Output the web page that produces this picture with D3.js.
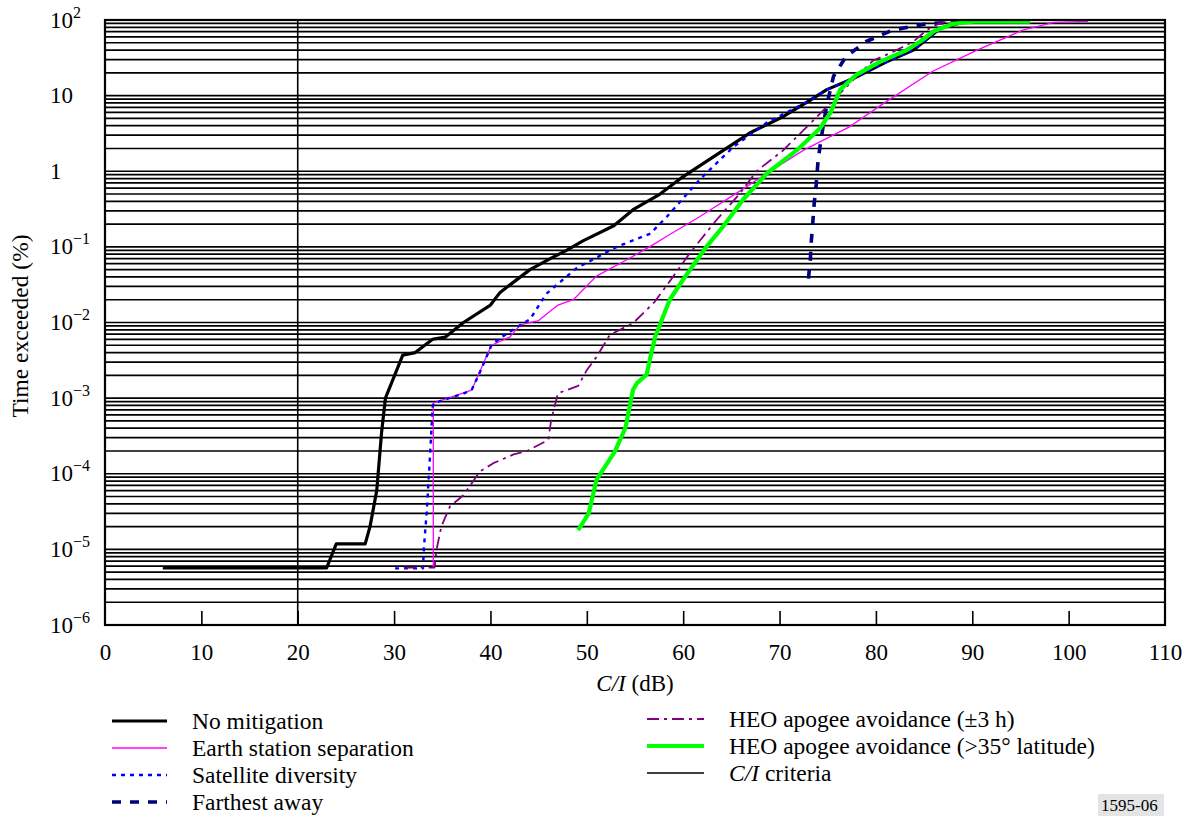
<!DOCTYPE html>
<html>
<head>
<meta charset="utf-8">
<script src="https://cdn.jsdelivr.net/npm/d3@7"></script>
<style>
  body { margin: 0; background: #fff; }
  svg text { font-family: "Liberation Serif", "Times New Roman", serif; fill: #000; }
</style>
</head>
<body>
<div id="chart"></div>
<script>
// C/I (dB) vs time exceeded (%) for each mitigation technique
const noMitigation = [
  [6, 5.7e-6], [23, 5.7e-6], [24, 1.18e-5], [27, 1.18e-5], [27.5, 2e-5], [28.2, 6e-5],
  [28.7, 3.5e-4], [29.1, 1e-3], [30.9, 3.7e-3], [32.2, 4e-3], [34, 6e-3], [35.3, 6.4e-3],
  [37.2, 1e-2], [40, 1.7e-2], [41, 2.5e-2], [44.1, 5e-2], [46.2, 7e-2], [47.9, 9e-2],
  [49.6, 0.12], [52.8, 0.19], [54.8, 0.31], [57.6, 0.5], [60, 0.85], [64.2, 1.9],
  [66.9, 3.2], [70.4, 5.3], [73.2, 8.7], [74.9, 12], [77.7, 17], [81.1, 28], [83.9, 40],
  [85.6, 60], [86.7, 78], [89.4, 96]
];
const earthStation = [
  [34.07, 5.7e-6], [34.07, 8.6e-4], [38.05, 1.28e-3], [40.1, 5e-3], [42, 6.4e-3],
  [43.1, 9.3e-3], [45, 1.06e-2], [47, 1.7e-2], [48.6, 2e-2], [51, 4.1e-2], [54.1, 6.7e-2],
  [56.9, 0.107], [58.3, 0.138], [61.7, 0.25], [65.5, 0.51], [68.7, 0.94], [72.5, 1.9],
  [77.3, 3.9], [80.8, 7.9], [85.9, 21], [90.5, 40], [95.3, 74], [98.5, 93], [102, 96]
];
const satDiversity = [
  [30.1, 5.6e-6], [33, 5.6e-6], [33.1, 1.08e-5], [33.4, 3.3e-5], [33.7, 1.5e-4], [34, 7.7e-4],
  [34.1, 8.6e-4], [37.2, 1.15e-3], [38.05, 1.28e-3], [39.1, 2.5e-3], [40.1, 5e-3], [41, 6.2e-3],
  [43.1, 9.3e-3], [44.1, 1.1e-2], [45.8, 2.4e-2], [48.9, 5.2e-2], [53.1, 0.1], [56.6, 0.15],
  [58.3, 0.25], [61.7, 0.77], [65.2, 2.1], [68.7, 4.4], [73.2, 8.7], [74.9, 12], [77.7, 17],
  [81.1, 28], [83.9, 40], [85.6, 60], [86.7, 78], [88.5, 92], [89.4, 96]
];
const farthestAway = [
  [73.0, 0.038], [73.2, 0.07], [73.3, 0.12], [73.45, 0.21], [73.6, 0.38], [73.8, 0.66],
  [74.0, 1.4], [74.3, 2.6], [74.6, 4.5], [74.9, 7.5], [75.6, 18], [76.9, 33], [79.0, 52],
  [81.8, 74], [85.3, 89], [89.4, 96]
];
const heoApogee3h = [
  [31, 5.75e-6], [34.2, 5.75e-6], [34.4, 9.8e-6], [34.9, 2e-5], [35.8, 3.7e-5], [37.2, 5.2e-5],
  [38.9, 1.07e-4], [40.3, 1.38e-4], [42.4, 1.8e-4], [43.8, 2e-4], [46, 2.8e-4], [46.3, 5.1e-4],
  [47, 1.16e-3], [49.1, 1.45e-3], [50, 2.35e-3], [51, 3.5e-3], [52.4, 6.9e-3], [54.8, 9.8e-3],
  [57, 1.85e-2], [58.6, 3.5e-2], [60.7, 8.3e-2], [63.5, 0.23], [65.9, 0.51], [67.6, 1.0],
  [70.4, 1.9], [73.2, 4.3], [75.6, 8.7], [78, 18], [79.7, 29], [81.8, 38], [83.9, 52],
  [85.3, 74], [86.7, 92], [88, 96]
];
const heoApogee35 = [
  [49.1, 1.8e-5], [50.2, 3e-5], [51, 8.3e-5], [52.9, 1.96e-4], [54, 4e-4], [54.8, 1.29e-3],
  [55.2, 1.58e-3], [56.2, 2.04e-3], [56.6, 3.5e-3], [57.1, 6.5e-3], [58.6, 2e-2], [60, 3.7e-2],
  [62.4, 0.1], [64.2, 0.19], [66.2, 0.42], [68.7, 0.94], [71.8, 1.9], [74.2, 3.7], [75.3, 6],
  [76.3, 12], [78, 19], [80.4, 28], [83.2, 40], [84.6, 52], [86, 71], [88, 89], [90.1, 95],
  [96, 95]
];
const ciCriteria = 20;

const xTicks = [0, 10, 20, 30, 40, 50, 60, 70, 80, 90, 100, 110];
const yTicks = [1e-6, 1e-5, 1e-4, 1e-3, 1e-2, 1e-1, 1, 10, 100];
const yTickBases = ["10", "10", "10", "10", "10", "10", "1", "10", "10"];
const yTickExps = ["\u22126", "\u22125", "\u22124", "\u22123", "\u22122", "\u22121", "", "", "2"];

(function() {
  const width = 1193, height = 816;
  const plot = {left: 105, right: 1165, top: 20, bottom: 625};

  const svg = d3.select("#chart").append("svg")
      .attr("width", width)
      .attr("height", height)
      .attr("viewBox", "0 0 " + width + " " + height);
  svg.append("rect").attr("width", width).attr("height", height).attr("fill", "#fff");

  const x = d3.scaleLinear().domain([0, 110]).range([plot.left, plot.right]);
  const y = d3.scaleLog().domain([1e-6, 1e2]).range([plot.bottom, plot.top]);

  const series = [
    {name: "No mitigation", data: noMitigation, color: "#000", width: 3.2, dash: null, col: 0},
    {name: "Earth station separation", data: earthStation, color: "#ff00ff", width: 1.3, dash: null, col: 0},
    {name: "Satellite diversity", data: satDiversity, color: "#0000ff", width: 2.4, dash: "4,5", col: 0},
    {name: "Farthest away", data: farthestAway, color: "#000080", width: 3.6, dash: "9,9", col: 0},
    {name: "HEO apogee avoidance (\u00b13 h)", data: heoApogee3h, color: "#800080", width: 1.8, dash: "12,5,3,5", col: 1},
    {name: "HEO apogee avoidance (>35\u00b0 latitude)", data: heoApogee35, color: "#00ff00", width: 4.2, dash: null, col: 1}
  ];

  drawGrid();
  drawCurves();
  drawAxes();
  drawLegend();

  function drawGrid() {
    // one horizontal line per 1..9 x decade
    let lines = [];
    d3.range(-6, 2).forEach((k) => {
      d3.range(1, 10).forEach((m) => { lines.push(m * Math.pow(10, k)); });
    });
    svg.append("g").attr("class", "grid")
      .selectAll("line")
      .data(lines)
      .enter().append("line")
        .attr("x1", plot.left).attr("x2", plot.right)
        .attr("y1", (d) => y(d)).attr("y2", (d) => y(d))
        .attr("stroke", "#000")
        .attr("stroke-width", 1.7);

    // C/I criteria
    svg.append("line")
      .attr("x1", x(ciCriteria)).attr("x2", x(ciCriteria))
      .attr("y1", plot.top).attr("y2", plot.bottom)
      .attr("stroke", "#000")
      .attr("stroke-width", 1.6);
  }

  function drawCurves() {
    const line = d3.line()
      .x((d) => x(d[0]))
      .y((d) => y(d[1]));
    svg.append("g").attr("class", "curves")
      .selectAll("path")
      .data(series)
      .enter().append("path")
        .attr("d", (s) => line(s.data))
        .attr("fill", "none")
        .attr("stroke", (s) => s.color)
        .attr("stroke-width", (s) => s.width)
        .attr("stroke-dasharray", (s) => s.dash)
        .attr("stroke-linejoin", "round");
  }

  function drawAxes() {
    svg.append("rect")
      .attr("x", plot.left).attr("y", plot.top)
      .attr("width", plot.right - plot.left).attr("height", plot.bottom - plot.top)
      .attr("fill", "none")
      .attr("stroke", "#000")
      .attr("stroke-width", 2.2);

    const xAxis = svg.append("g")
      .attr("class", "x-axis")
      .attr("transform", "translate(0," + plot.bottom + ")")
      .call(d3.axisBottom(x).tickValues(xTicks).tickSize(-14).tickSizeOuter(0));
    xAxis.select(".domain").remove();
    xAxis.selectAll(".tick line")
      .attr("stroke", "#000")
      .attr("stroke-width", 1.6)
      .filter((d) => d === 0 || d === 110).remove();
    xAxis.selectAll(".tick text")
      .attr("y", 35).attr("dy", 0)
      .style("font-family", "'Liberation Serif', serif")
      .style("font-size", "23px")
      .attr("fill", "#000");

    svg.append("text")
      .attr("x", (plot.left + plot.right) / 2)
      .attr("y", 691)
      .attr("text-anchor", "middle")
      .style("font-size", "23px")
      .call((t) => {
        t.append("tspan").style("font-style", "italic").text("C/I");
        t.append("tspan").text(" (dB)");
      });

    const yLabels = svg.append("g").attr("class", "y-labels")
      .selectAll("text")
      .data(yTicks)
      .enter().append("text")
        .attr("x", 50)
        .attr("y", (d) => y(d) + 7.5)
        .style("font-size", "23px");
    yLabels.append("tspan").text((d, i) => yTickBases[i]);
    yLabels.append("tspan")
      .attr("dy", -10)
      .style("font-size", "16px")
      .text((d, i) => yTickExps[i]);

    svg.append("text")
      .attr("transform", "translate(28,326) rotate(-90)")
      .attr("text-anchor", "middle")
      .style("font-size", "23.5px")
      .text("Time exceeded (%)");
  }

  function drawLegend() {
    const cols = [
      {x1: 112, x2: 167, tx: 192, y0: 721},
      {x1: 647, x2: 704, tx: 729, y0: 719}
    ];
    const step = 27;
    let items = series.map((s) => ({name: s.name, color: s.color, width: s.width, dash: s.dash, col: s.col}));
    items.push({name: null, color: "#000", width: 1.3, dash: null, col: 1});

    let rowCount = [0, 0];
    items.forEach((it) => {
      const c = cols[it.col];
      const ly = c.y0 + step * rowCount[it.col]++;
      svg.append("line")
        .attr("x1", c.x1).attr("x2", c.x2)
        .attr("y1", ly).attr("y2", ly)
        .attr("stroke", it.color)
        .attr("stroke-width", it.width)
        .attr("stroke-dasharray", it.dash);
      const t = svg.append("text")
        .attr("x", c.tx)
        .attr("y", ly + 8)
        .style("font-size", "23.5px");
      if (it.name) {
        t.text(it.name);
      } else {
        t.append("tspan").style("font-style", "italic").text("C/I");
        t.append("tspan").text(" criteria");
      }
    });

    // figure number
    svg.append("rect")
      .attr("x", 1098).attr("y", 794)
      .attr("width", 66).attr("height", 22)
      .attr("fill", "#e4e4e4");
    svg.append("text")
      .attr("x", 1101).attr("y", 811)
      .style("font-size", "17px")
      .text("1595-06");
  }
})();
</script>
</body>
</html>
